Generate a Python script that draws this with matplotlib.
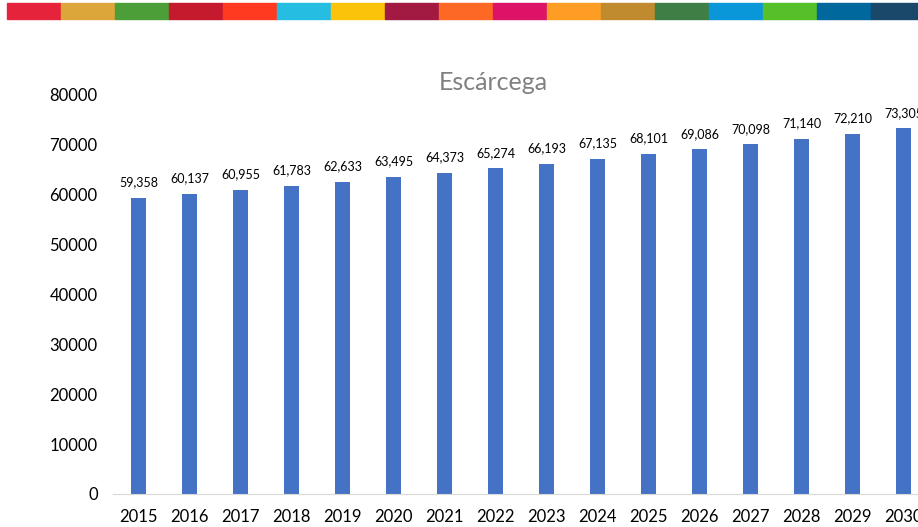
import matplotlib
matplotlib.use("Agg")
import matplotlib.pyplot as plt
from matplotlib.patches import Rectangle

# Data
years = [str(y) for y in range(2015, 2031)]
population = [59358, 60137, 60955, 61783, 62633, 63495, 64373, 65274,
              66193, 67135, 68101, 69086, 70098, 71140, 72210, 73305]
title = "Escárcega"

# SDG colour strip at the top
sdg_colors = ["#E5243B", "#DDA63A", "#4C9F38", "#C5192D", "#FF3A21", "#26BDE2",
              "#FCC30B", "#A21942", "#FD6925", "#DD1367", "#FD9D24", "#BF8B2E",
              "#3F7E44", "#0A97D9", "#56C02B", "#00689D", "#19486A"]

plt.rcParams['font.family'] = ['Lato', 'DejaVu Sans']

fig = plt.figure(figsize=(9.18, 5.27), dpi=100)

# colour strip
strip_w = 54 / 918
for i, c in enumerate(sdg_colors):
    fig.patches.append(Rectangle((7 / 918 + i * strip_w, 1 - 19 / 527), strip_w, 16 / 527,
                                 transform=fig.transFigure, color=c, zorder=0))

ax = fig.add_axes([113 / 918, 1 - 494 / 527, 816 / 918, 399 / 527])
x = range(len(years))
bars = ax.bar(x, population, width=0.31, color="#4472C4")
for rect, v in zip(bars, population):
    ax.annotate(f"{v:,}", (rect.get_x() + rect.get_width() / 2, v),
                xytext=(0, 7), textcoords="offset points",
                ha="center", va="bottom", fontsize=9, color="#000000")

ax.set_xlim(-0.5, len(years) - 0.5)
ax.set_ylim(0, 80000)
ax.set_yticks(range(0, 80001, 10000))
ax.set_xticks(list(x))
ax.set_xticklabels(years)
ax.tick_params(axis="both", length=0, labelsize=12, colors="#000000")
ax.tick_params(axis="y", pad=11)
ax.tick_params(axis="x", pad=11)
for s in ["top", "right", "left"]:
    ax.spines[s].set_visible(False)
ax.spines["bottom"].set_color("#D9D9D9")

fig.text(493 / 918, 1 - 82 / 527, title, ha="center", va="center",
         fontsize=18, color="#808080")

fig.savefig("out.png", dpi=100)
